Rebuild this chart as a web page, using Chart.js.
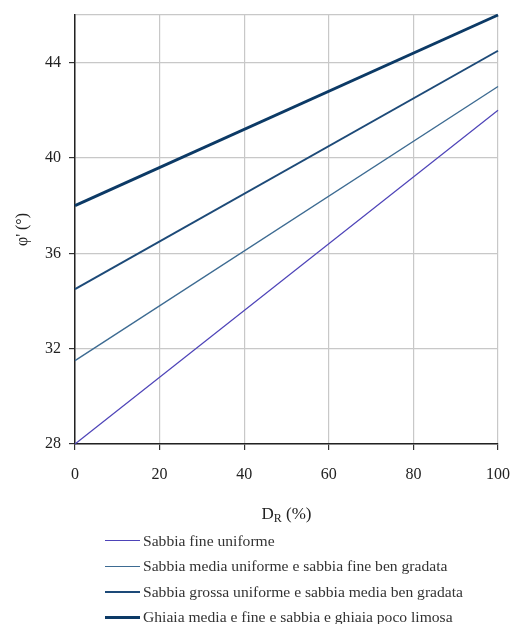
<!DOCTYPE html>
<html>
<head>
<meta charset="utf-8">
<script src="https://cdn.jsdelivr.net/npm/chart.js@4/dist/chart.umd.min.js"></script>
<style>
html,body{margin:0;padding:0;background:#fff;}
#wrap{position:relative;width:513px;height:624px;}
#chart{position:absolute;left:0;top:0;}
#legend{position:absolute;left:105px;top:528px;font-family:"Liberation Serif",serif;font-size:15.6px;color:#333;}
.item{display:flex;align-items:center;height:25.5px;}
.swatch{width:35px;margin-right:3px;}
</style>
</head>
<body>
<div id="wrap">
<canvas id="chart" width="513" height="530"></canvas>
<div id="legend"></div>
</div>
<script>
/* ================= DATA ================= */

const drValues=[0,100];
const sabbiaFine=[28,42];
const sabbiaMedia=[31.5,43];
const sabbiaGrossa=[34.5,44.5];
const ghiaia=[38,46];

const seriesLabels=[
"Sabbia fine uniforme",
"Sabbia media uniforme e sabbia fine ben gradata",
"Sabbia grossa uniforme e sabbia media ben gradata",
"Ghiaia media e fine e sabbia e ghiaia poco limosa"
];
const seriesValues=[sabbiaFine,sabbiaMedia,sabbiaGrossa,ghiaia];
const seriesColors=["#4d43b8","#3d6b92","#1d4a78","#0c3a66"];
const seriesWidths=[1.2,1.4,2,3];

const xMin=0,xMax=100,xStep=20;
const yMin=28,yMax=46,yStep=4;

const serif="'Liberation Serif', 'Times New Roman', serif";


/* ================= X TITLE (D with subscript R) ================= */

const xTitlePlugin={
id:"xTitle",
afterDraw(chart){
const ctx=chart.ctx;
const area=chart.chartArea;
const cx=(area.left+area.right)/2;
const y=519;
ctx.save();
ctx.fillStyle="#222";
ctx.textBaseline="alphabetic";
ctx.font="17px "+serif;
const wD=ctx.measureText("D").width;
ctx.font="12px "+serif;
const wR=ctx.measureText("R").width;
ctx.font="17px "+serif;
const wRest=ctx.measureText(" (%)").width;
let x=cx-(wD+wR+wRest)/2;
ctx.textAlign="left";
ctx.fillText("D",x,y);
x+=wD;
ctx.font="12px "+serif;
ctx.fillText("R",x,y+3);
x+=wR;
ctx.font="17px "+serif;
ctx.fillText(" (%)",x,y);
ctx.restore();
}
};


/* ================= CHART ================= */

const datasets=seriesLabels.map((label,i)=>({
label,
data:drValues.map((x,j)=>({x,y:seriesValues[i][j]})),
borderColor:seriesColors[i],
backgroundColor:seriesColors[i],
borderWidth:seriesWidths[i],
pointRadius:0,
tension:0,
clip:4
}));

const chart=new Chart(document.getElementById("chart"),{
type:"line",
data:{datasets},
plugins:[xTitlePlugin],
options:{
responsive:false,
animation:false,
layout:{padding:{top:15,right:15,left:0,bottom:0}},
plugins:{legend:{display:false},tooltip:{enabled:false}},
scales:{
x:{
type:"linear",
min:xMin,max:xMax,
afterFit(scale){
scale.height=86;
scale.paddingLeft=0;
scale.paddingRight=0;
},
ticks:{stepSize:xStep,color:"#222",font:{family:serif,size:16},padding:15,maxRotation:0},
grid:{color:"#c8c8c8",lineWidth:1.2,tickLength:6,tickColor:"#333"},
border:{color:"#222",width:1.5}
},
y:{
min:yMin,max:yMax,
afterFit(scale){
scale.width=75;
scale.paddingTop=0;
scale.paddingBottom=0;
},
ticks:{
stepSize:yStep,color:"#222",font:{family:serif,size:16},padding:8,
callback:v=>v===yMax?"":v
},
grid:{
color:"#c8c8c8",lineWidth:1.2,tickLength:6,
tickColor:c=>c.tick&&c.tick.value===yMax?"rgba(0,0,0,0)":"#333"
},
border:{color:"#222",width:1.5},
title:{display:true,text:"φ' (°)",color:"#222",font:{family:serif,size:16},padding:{top:13,bottom:0}}
}
}
}
});


/* ================= LEGEND ================= */

const legend=document.getElementById("legend");
chart.data.datasets.forEach(ds=>{
const row=document.createElement("div");
row.className="item";
row.innerHTML=`<div class="swatch" style="height:${ds.borderWidth}px;background:${ds.borderColor}"></div><span>${ds.label}</span>`;
legend.appendChild(row);
});
</script>
</body>
</html>
